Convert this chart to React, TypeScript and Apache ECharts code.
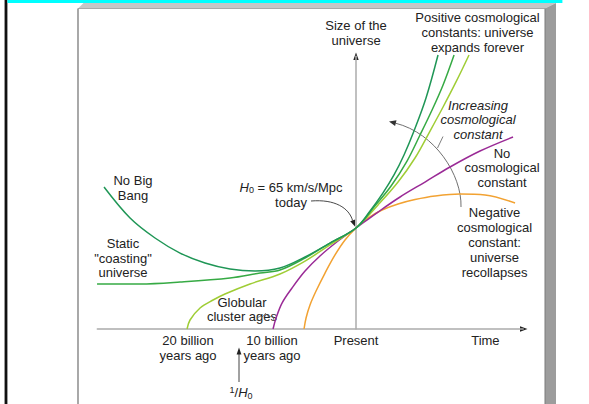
import React, { useEffect, useRef } from "react";
import * as echarts from "echarts";

// ---- data (time in billions of years relative to present, size relative to today) ----
const tNoBigBang = [-30.0, -26.9, -23.93, -20.95, -17.98, -15.0, -12.02, -9.05, -6.07, -3.1, 0, 1.67, 3.21, 4.52, 5.71, 6.9, 8.33, 9.76];
const sNoBigBang = [1.406, 1.099, 0.901, 0.752, 0.653, 0.594, 0.574, 0.604, 0.713, 0.851, 1, 1.168, 1.347, 1.525, 1.723, 1.96, 2.287, 2.713];

const tCoasting = [-30.83, -25.71, -20.95, -15.0, -11.43, -9.05, -6.07, -3.1, 0, 2.14, 4.17, 6.07, 7.62, 9.05, 10.36, 11.67];
const sCoasting = [0.446, 0.446, 0.465, 0.505, 0.554, 0.584, 0.703, 0.851, 1, 1.208, 1.416, 1.663, 1.921, 2.168, 2.416, 2.713];

const tOldBang = [-20.12, -19.76, -18.57, -17.02, -15.6, -12.62, -9.05, -6.07, -3.1, 0, 2.62, 5.0, 7.02, 8.81, 10.36, 11.9, 13.45];
const sOldBang = [0, 0.089, 0.208, 0.287, 0.347, 0.446, 0.545, 0.673, 0.832, 1, 1.228, 1.455, 1.693, 1.96, 2.198, 2.446, 2.713];

const tNoLambda = [-9.88, -9.52, -8.81, -7.62, -6.07, -4.29, -2.14, 0, 2.62, 5.24, 8.21, 11.19, 14.76, 18.69];
const sNoLambda = [0, 0.109, 0.257, 0.406, 0.574, 0.723, 0.871, 1, 1.158, 1.307, 1.455, 1.604, 1.762, 1.901];

const tNegLambda = [-6.19, -5.95, -5.48, -4.76, -3.69, -2.5, -1.31, 0, 1.43, 3.1, 5.0, 7.02, 9.4, 12.38, 15.36, 18.93];
const sNegLambda = [0, 0.109, 0.238, 0.376, 0.554, 0.733, 0.881, 1, 1.099, 1.178, 1.238, 1.282, 1.317, 1.337, 1.327, 1.248];

const xTickValues = [-20, -10, 0, 15.4];
const xTickLabels = ["20 billion\nyears ago", "10 billion\nyears ago", "Present", "Time"];
const yAxisName = "Size of the\nuniverse";

const FONT = "'Liberation Sans', Arial, Helvetica, sans-serif";
const TEXT = "#222";

const zip = (t: number[], s: number[]) => t.map((v, i) => [v, s[i]]);

const text = (str: string, x: number, y: number, lh: number, extra: any = {}) => ({
  type: "text",
  x,
  y,
  silent: true,
  style: {
    text: str,
    fill: TEXT,
    fontSize: 13,
    fontFamily: FONT,
    align: "center",
    verticalAlign: "top",
    lineHeight: lh,
    ...extra,
  },
});

export default function App() {
  const ref = useRef<HTMLDivElement>(null);
  useEffect(() => {
    if (!ref.current) return;
    const chart = echarts.init(ref.current, null, { renderer: "svg" });
    const lineSeries = (name: string, t: number[], s: number[], color: string) => ({
      name,
      type: "line",
      data: zip(t, s),
      smooth: 0.35,
      symbol: "none",
      clip: false,
      silent: true,
      lineStyle: { color, width: 1.5 },
    });
    const rich = {
      i: { fontStyle: "italic", fontSize: 13, fontFamily: FONT, fill: TEXT },
      sub: { fontSize: 9, lineHeight: 9, verticalAlign: "bottom", fontFamily: FONT, fill: TEXT },
      sup: { fontSize: 9, lineHeight: 9, verticalAlign: "top", fontFamily: FONT, fill: TEXT },
    };
    chart.setOption({
      animation: false,
      backgroundColor: "#ffffff",
      grid: { left: 97.3, right: 65.8, top: 56.3, bottom: 75 },
      xAxis: {
        type: "value",
        min: -30.8,
        max: 19.9,
        splitLine: { show: false },
        axisTick: { show: false },
        axisLine: { lineStyle: { color: "#ababab", width: 1.5 } },
        axisLabel: {
          customValues: xTickValues,
          showMinLabel: true,
          showMaxLabel: true,
          margin: 4,
          color: TEXT,
          fontSize: 13,
          fontFamily: FONT,
          lineHeight: 15,
          formatter: (v: number) => {
            let best = 0;
            xTickValues.forEach((tv, i) => {
              if (Math.abs(tv - v) < Math.abs(xTickValues[best] - v)) best = i;
            });
            return xTickLabels[best];
          },
        },
      },
      yAxis: {
        type: "value",
        min: 0,
        max: 2.7,
        name: yAxisName,
        nameLocation: "end",
        nameGap: 8,
        nameTextStyle: { color: TEXT, fontSize: 13, fontFamily: FONT, lineHeight: 15, align: "center" },
        splitLine: { show: false },
        axisTick: { show: false },
        axisLabel: { show: false },
        axisLine: { onZero: true, lineStyle: { color: "#ababab", width: 1.5 } },
      },
      series: [
        lineSeries("Negative cosmological constant", tNegLambda, sNegLambda, "#f2a232"),
        lineSeries("No cosmological constant", tNoLambda, sNoLambda, "#9a2a96"),
        lineSeries("Old universe", tOldBang, sOldBang, "#9fcd35"),
        lineSeries("Static coasting universe", tCoasting, sCoasting, "#36aa44"),
        lineSeries("No Big Bang", tNoBigBang, sNoBigBang, "#1f9656"),
      ],
      graphic: [
        // page frame
        { type: "rect", silent: true, shape: { x: 4, y: 0, width: 1, height: 404 }, style: { fill: "#9a9a9a" } },
        { type: "rect", silent: true, shape: { x: 5, y: 0, width: 2.4, height: 404 }, style: { fill: "#111" } },
        { type: "rect", silent: true, shape: { x: 7.4, y: 0, width: 555, height: 3 }, style: { fill: "#00ffff" } },
        { type: "polygon", silent: true, shape: { points: [[78, 8.5], [83.5, 3], [556, 3], [545, 8.5]] }, style: { fill: "#c6c6c6" } },
        { type: "polygon", silent: true, shape: { points: [[545, 8.5], [556, 3], [556, 404], [545, 404]] }, style: { fill: "#9c9c9c" } },
        { type: "line", silent: true, shape: { x1: 545, y1: 8.5, x2: 545, y2: 404 }, style: { stroke: "#7a7a7a", lineWidth: 1 } },
        { type: "line", silent: true, shape: { x1: 78, y1: 8.5, x2: 78, y2: 404 }, style: { stroke: "#7a7a7a", lineWidth: 1.3 } },
        { type: "line", silent: true, shape: { x1: 78, y1: 8.5, x2: 545, y2: 8.5 }, style: { stroke: "#9a9a9a", lineWidth: 0.8 } },
        // axis arrow heads
        { type: "polygon", silent: true, shape: { points: [[527.5, 329], [520, 326.3], [520, 331.7]] }, style: { fill: "#222" } },
        { type: "polygon", silent: true, shape: { points: [[356, 52.5], [353.3, 60], [358.7, 60]] }, style: { fill: "#222" } },
        // annotations
        text("Positive cosmological\nconstants: universe\nexpands forever", 477.5, 9.5, 15),
        text("Increasing\ncosmological\nconstant", 478, 97.8, 14.5, { fontStyle: "italic" }),
        text("No\ncosmological\nconstant", 502, 145.8, 14.5),
        text("Negative\ncosmological\nconstant:\nuniverse\nrecollapses", 494.5, 204.5, 15),
        text("No Big\nBang", 133, 173.5, 14.5),
        text("Static\n\"coasting\"\nuniverse", 123, 236.5, 14.5),
        text("Globular\ncluster ages", 242, 295, 14),
        {
          type: "text",
          x: 291,
          y: 179.5,
          silent: true,
          style: {
            text: "{i|H}{sub|0} = 65 km/s/Mpc\ntoday",
            rich,
            fill: TEXT,
            fontSize: 13,
            fontFamily: FONT,
            align: "center",
            verticalAlign: "top",
            lineHeight: 15,
          },
        },
        {
          type: "text",
          x: 241,
          y: 385,
          silent: true,
          style: {
            text: "{sup|1}/{i|H}{sub|0}",
            rich,
            fill: TEXT,
            fontSize: 13,
            fontFamily: FONT,
            align: "center",
            verticalAlign: "top",
            lineHeight: 15,
          },
        },
        // H0 leader arrow
        {
          type: "bezierCurve",
          silent: true,
          shape: { x1: 311, y1: 201, cpx1: 335, cpy1: 199, cpx2: 349, cpy2: 208, x2: 352.6, y2: 220.5 },
          style: { stroke: "#333", lineWidth: 0.9, fill: "none" },
        },
        { type: "polygon", silent: true, shape: { points: [[355, 226.5], [350.2, 221.3], [355.2, 219.4]] }, style: { fill: "#222" } },
        // increasing cosmological constant arc
        {
          type: "bezierCurve",
          silent: true,
          shape: { x1: 461, y1: 207, cpx1: 462, cpy1: 175, cpx2: 435, cpy2: 133, x2: 395.5, y2: 123.2 },
          style: { stroke: "#707070", lineWidth: 1, fill: "none" },
        },
        { type: "polygon", silent: true, shape: { points: [[389, 121.5], [396.5, 120.3], [395.1, 126.1]] }, style: { fill: "#333" } },
        { type: "line", silent: true, shape: { x1: 443, y1: 136.5, x2: 437.5, y2: 148 }, style: { stroke: "#707070", lineWidth: 0.9 } },
        // 1/H0 arrow
        { type: "line", silent: true, shape: { x1: 239, y1: 382, x2: 239, y2: 354 }, style: { stroke: "#444", lineWidth: 1 } },
        { type: "polygon", silent: true, shape: { points: [[239, 347.5], [236.6, 354.5], [241.4, 354.5]] }, style: { fill: "#222" } },
        // globular cluster brace
        {
          type: "polyline",
          silent: true,
          shape: {
            points: [[257, 320.5], [258.3, 317], [263, 316.3], [265.5, 313.5], [268, 316.3], [272.7, 317], [274, 320.5]],
            smooth: 0.3,
          },
          style: { stroke: "#555", lineWidth: 0.8, fill: "none" },
        },
      ],
    });
    return () => chart.dispose();
  }, []);
  return (
    <div
      ref={ref}
      style={{ position: "absolute", left: 0, top: 0, width: 589, height: 404, background: "#fff" }}
    />
  );
}
